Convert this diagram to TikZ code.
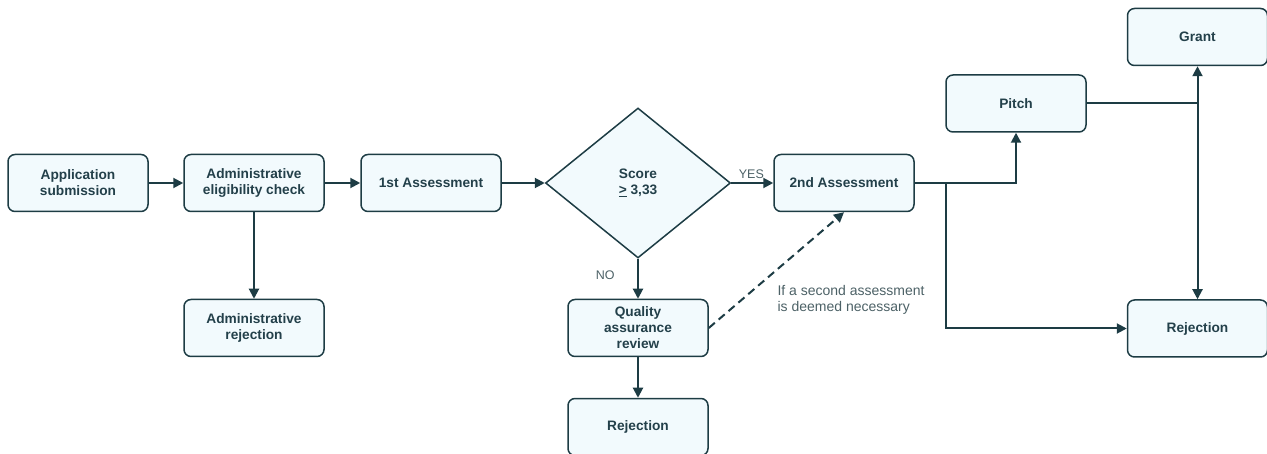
\documentclass[tikz,border=0pt]{standalone}
\usepackage{fontspec}
\setmainfont{Liberation Sans}
\usetikzlibrary{arrows.meta,shapes.geometric}
\definecolor{edge}{HTML}{1D3C44}
\definecolor{boxfill}{HTML}{F2FAFD}
\definecolor{boxtext}{HTML}{23404A}
\definecolor{notetext}{HTML}{4C6166}
\begin{document}
\begin{tikzpicture}[x=1pt,y=-1pt,
  box/.style={draw=edge,fill=boxfill,line width=1.5pt,rounded corners=7pt,
    minimum width=140pt,minimum height=57pt,align=center,text=boxtext,
    font=\fontsize{13.7}{16}\selectfont\bfseries},
  decision/.style={draw=edge,fill=boxfill,line width=1.5pt,diamond,
    minimum width=185pt,minimum height=150pt,align=center,text=boxtext,
    font=\fontsize{13.7}{16}\selectfont\bfseries},
  flow/.style={draw=edge,line width=2pt,-{Triangle[length=10pt,width=10pt]}},
  link/.style={draw=edge,line width=2pt},
  tag/.style={text=notetext,font=\fontsize{12.5}{15}\selectfont}]
\useasboundingbox (0,0) rectangle (1267,454);
% boxes
\node[box] (app) at (78,183) {Application\\submission};
\node[box] (elig) at (254,183) {Administrative\\eligibility check};
\node[box] (admrej) at (254,328) {Administrative\\rejection};
\node[box] (ass1) at (431,183) {1st Assessment};
\node[decision] (score) at (638,183) {Score\\\underline{>} 3,33};
\node[box] (ass2) at (844,183) {2nd Assessment};
\node[box] (qa) at (638,328) {Quality\\assurance\\review};
\node[box] (rej1) at (638,427) {Rejection};
\node[box] (pitch) at (1016,103.5) {Pitch};
\node[box] (grant) at (1197.5,37) {Grant};
\node[box] (rej2) at (1197.5,328.5) {Rejection};
% connectors
\draw[flow] (app) -- (elig);
\draw[flow] (elig) -- (ass1);
\draw[flow] (elig) -- (admrej);
\draw[flow] (ass1) -- (score);
\draw[flow] (score) -- node[tag,above,pos=0.48] (yes) {YES} (ass2);
\draw[flow] (score) -- node[tag,left,xshift=-19pt,pos=0.4] (no) {NO} (qa);
\draw[flow] (qa) -- (rej1);
\draw[flow,dashed,dash pattern=on 8pt off 5pt] (qa.east) -- (ass2.south);
\node[tag,anchor=north west,align=left,font=\fontsize{14}{16}\selectfont] (note) at (774,282)
  {If a second assessment\\is deemed necessary};
\coordinate (split) at (946,183);
\draw[flow] (ass2.east) -| (pitch.south);
\draw[flow] (split) |- (rej2.west);
\coordinate (join) at (pitch.east -| grant.south);
\draw[link] (pitch.east) -- (join);
\draw[flow,{Triangle[length=10pt,width=10pt]}-{Triangle[length=10pt,width=10pt]}] (grant.south) -- (rej2.north);
\end{tikzpicture}
\end{document}
